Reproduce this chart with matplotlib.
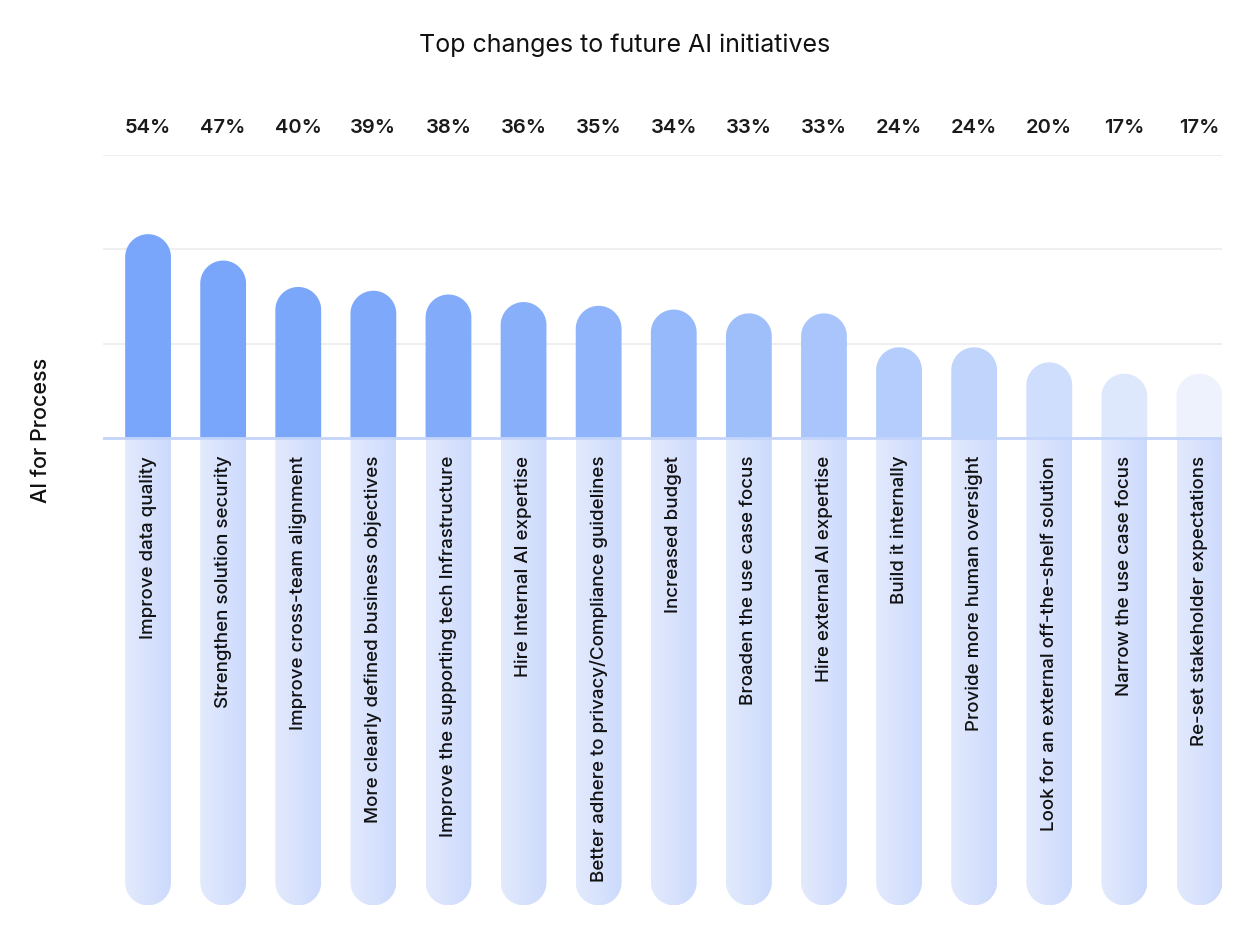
import numpy as np
import matplotlib.pyplot as plt
from matplotlib.patches import Polygon, Rectangle
from matplotlib.colors import LinearSegmentedColormap

plt.rcParams['font.family'] = ['Inter', 'DejaVu Sans']

# données
categories = [
    'Improve data quality',
    'Strengthen solution security',
    'Improve cross-team alignment',
    'More clearly defined business objectives',
    'Improve the supporting tech Infrastructure',
    'Hire Internal AI expertise',
    'Better adhere to privacy/Compliance guidelines',
    'Increased budget',
    'Broaden the use case focus',
    'Hire external AI expertise',
    'Build it internally',
    'Provide more human oversight',
    'Look for an external off-the-shelf solution',
    'Narrow the use case focus',
    'Re-set stakeholder expectations',
]
values = [54, 47, 40, 39, 38, 36, 35, 34, 33, 33, 24, 24, 20, 17, 17]
pct_labels = [f'{v}%' for v in values]
grid_ticks = [25, 50, 75]

n = len(values)
x = np.arange(n)
bar_w = 0.61
pillar_bottom = -124

fig = plt.figure(figsize=(12.56, 9.4), dpi=100)
ax = fig.add_axes([103 / 1256, 1 - 911 / 940, (1222 - 103) / 1256, (911 - 155) / 940])
xlim = (-0.6, 14.3)
ylim = (-125.5, 75)
ax.set_xlim(*xlim)
ax.set_ylim(*ylim)
ax.axis('off')

# rayon de l'arrondi en unités y (pour un demi-cercle en pixels)
p = ax.transData.transform([(0, 0), (1, 1)])
dx, dy = p[1] - p[0]
r = bar_w / 2
ry = r * dx / dy

theta = np.linspace(0, np.pi, 80)


def dome(xc, y0, y1, up=True):
    # barre avec extrémité arrondie (en haut si up, sinon en bas)
    if up:
        yc = y1 - ry
        pts = np.column_stack([xc + r * np.cos(theta), yc + ry * np.sin(theta)])
        pts = np.vstack([[xc + r, y0], pts, [xc - r, y0]])
    else:
        yc = y0 + ry
        pts = np.column_stack([xc + r * np.cos(theta), yc - ry * np.sin(theta)])
        pts = np.vstack([[xc + r, y1], pts, [xc - r, y1]])
    return pts


for g in grid_ticks:
    ax.axhline(g, color='#ececef', lw=1.2, zorder=0)
ax.axhline(0, color='#c3d4fb', lw=2, zorder=3)

top_cmap = LinearSegmentedColormap.from_list('top', ['#79a6fa', '#eef2fd'])
low_cmap = LinearSegmentedColormap.from_list('low', ['#e3eafd', '#ccdafc'])

grad = np.linspace(0, 1, 64).reshape(1, -1)

for i, v in enumerate(values):
    t = (i / (n - 1)) ** 2
    bar = Polygon(dome(x[i], 0, v, up=True), closed=True, fc=top_cmap(t), ec='none', zorder=2)
    ax.add_patch(bar)

    pillar = Polygon(dome(x[i], pillar_bottom, 0, up=False), closed=True, fc='none', ec='none')
    ax.add_patch(pillar)
    im = ax.imshow(grad, cmap=low_cmap, aspect='auto', interpolation='bicubic',
                   extent=(x[i] - r, x[i] + r, pillar_bottom, 0), zorder=1)
    im.set_clip_path(pillar)

    ax.annotate(categories[i], xy=(x[i], 0), xytext=(0, -13), textcoords='offset points',
                rotation=90, ha='center', va='top', fontsize=13.5, fontweight='medium',
                color='#111111', zorder=4)
    ax.text(x[i], 1.036, pct_labels[i], transform=ax.get_xaxis_transform(),
            ha='center', va='center', fontsize=14.5, fontweight='semibold', color='#1a1a1a')

ax.set_xlim(*xlim)
ax.set_ylim(*ylim)

fig.text(625 / 1256, 1 - 45 / 940, 'Top changes to future AI initiatives',
         ha='center', va='center', fontsize=18, color='#111111')
fig.text(41 / 1256, 1 - 430 / 940, 'AI for Process', rotation=90,
         ha='center', va='center', fontsize=15.5, fontweight='medium', color='#111111')

fig.savefig('out.png', dpi=100)
